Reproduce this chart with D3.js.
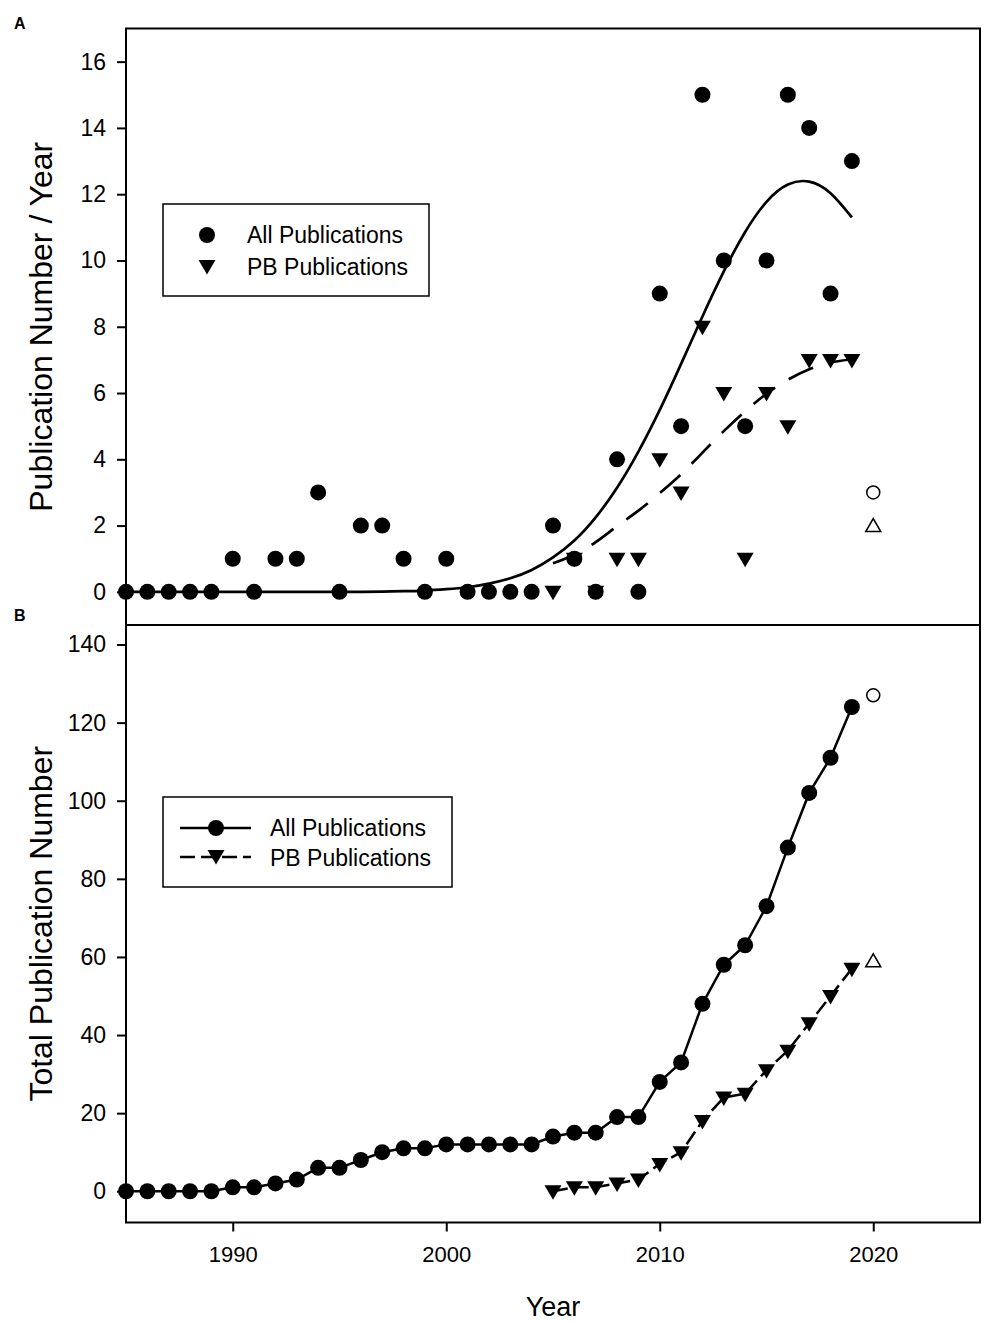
<!DOCTYPE html>
<html lang="en">
<head>
<meta charset="UTF-8">
<title>Publications per Year and Total Publications</title>
<script src="https://cdnjs.cloudflare.com/ajax/libs/d3/7.8.5/d3.min.js"></script>
<style>
  body { margin: 0; background: #fff; font-family: "Liberation Sans", Arial, sans-serif; }
  .axis path { display: none; }
  .axis line { stroke: #000; stroke-width: 2; }
  .axis text { fill: #000; }
  .frame { fill: none; stroke: #000; stroke-width: 2; }
  .legend-box { fill: #fff; stroke: #000; stroke-width: 1.5; }
  .legend text { font-size: 23px; fill: #000; }
</style>
</head>
<body>
<div id="chart"></div>
<script>
// Years covered by the records
const years = [1985, 1986, 1987, 1988, 1989, 1990, 1991, 1992, 1993, 1994,
               1995, 1996, 1997, 1998, 1999, 2000, 2001, 2002, 2003, 2004,
               2005, 2006, 2007, 2008, 2009, 2010, 2011, 2012, 2013, 2014,
               2015, 2016, 2017, 2018, 2019];
// All publications per year (panel A) and running total (panel B)
const allPerYear = [0, 0, 0, 0, 0, 1, 0, 1, 1, 3,
                    0, 2, 2, 1, 0, 1, 0, 0, 0, 0,
                    2, 1, 0, 4, 0, 9, 5, 15, 10, 5,
                    10, 15, 14, 9, 13];
const allTotal = [0, 0, 0, 0, 0, 1, 1, 2, 3, 6,
                  6, 8, 10, 11, 11, 12, 12, 12, 12, 12,
                  14, 15, 15, 19, 19, 28, 33, 48, 58, 63,
                  73, 88, 102, 111, 124];

// PB publications start in 2005
const pbYears = [2005, 2006, 2007, 2008, 2009, 2010, 2011, 2012, 2013, 2014,
                 2015, 2016, 2017, 2018, 2019];
const pbPerYear = [0, 1, 0, 1, 1, 4, 3, 8, 6, 1, 6, 5, 7, 7, 7];
const pbTotal = [0, 1, 1, 2, 3, 7, 10, 18, 24, 25, 31, 36, 43, 50, 57];

// Partial year (open symbols)
const partialYear = 2020;
const partialAll = 3;
const partialPb = 2;
const partialAllTotal = 127;
const partialPbTotal = 59;

// Fitted curves
const allFitValues = [0, 0, 0, 0, 0, 0, 0, 0, 0, 0,
                      0, 0, 0.01, 0.02, 0.04, 0.08, 0.14, 0.25, 0.41, 0.66,
                      1.04, 1.55, 2.25, 3.14, 4.23, 5.49, 6.88, 8.31, 9.67, 10.86,
                      11.77, 12.29, 12.38, 12.03, 11.3];
const pbFitValues = [0.86, 1.12, 1.5, 1.98, 2.45, 2.98, 3.55, 4.2, 4.85, 5.45,
                     5.98, 6.4, 6.72, 6.92, 7.02];

// Tick labels
const xTicks = [1990, 2000, 2010, 2020];
const yTicksA = [0, 2, 4, 6, 8, 10, 12, 14, 16];
const yTicksB = [0, 20, 40, 60, 80, 100, 120, 140];

const W = 985, H = 1321;
const left = 126, right = 980;
const topA = 28.5, mid = 625, bottomB = 1222.5;

const svg = d3.select("#chart").append("svg")
    .attr("width", W)
    .attr("height", H)
    .style("font-family", "'Liberation Sans', Arial, sans-serif");

const x = d3.scaleLinear().domain([1985, 2025]).range([left, right]);
const yA = d3.scaleLinear().domain([-1, 17]).range([mid, topA]);
const yB = d3.scaleLinear().domain([-8, 145]).range([bottomB, mid]);

const triDown = "M-8.5,-6L8.5,-6L0,8.5Z";
const triUp = "M-7.5,6L7.5,6L0,-7Z";

const toPoints = (xs, vs) => xs.map((yr, i) => ({year: yr, value: vs[i]}));

// ---------- Panel A ----------
const gA = svg.append("g");

gA.append("g")
    .attr("class", "axis")
    .attr("transform", `translate(${left},0)`)
    .call(d3.axisLeft(yA).tickValues(yTicksA).tickSize(9).tickPadding(11))
    .attr("font-size", 23)
    .attr("font-family", null);

// fitted curves
gA.append("path")
    .datum(toPoints(years, allFitValues))
    .attr("fill", "none")
    .attr("stroke", "#000")
    .attr("stroke-width", 2.7)
    .attr("d", d3.line().x(d => x(d.year)).y(d => yA(d.value)).curve(d3.curveNatural));

gA.append("path")
    .datum(toPoints(pbYears, pbFitValues))
    .attr("fill", "none")
    .attr("stroke", "#000")
    .attr("stroke-width", 2.7)
    .attr("stroke-dasharray", "27,16")
    .attr("d", d3.line().x(d => x(d.year)).y(d => yA(d.value)).curve(d3.curveNatural));

gA.selectAll("circle.all")
    .data(toPoints(years, allPerYear))
    .join("circle")
    .attr("class", "all")
    .attr("cx", d => x(d.year))
    .attr("cy", d => yA(d.value))
    .attr("r", 8)
    .attr("fill", "#000");

gA.selectAll("path.pb")
    .data(toPoints(pbYears, pbPerYear))
    .join("path")
    .attr("class", "pb")
    .attr("d", triDown)
    .attr("transform", d => `translate(${x(d.year)},${yA(d.value)})`)
    .attr("fill", "#000");

gA.append("circle")
    .attr("cx", x(partialYear))
    .attr("cy", yA(partialAll))
    .attr("r", 6.5)
    .attr("fill", "#fff")
    .attr("stroke", "#000")
    .attr("stroke-width", 1.5);

gA.append("path")
    .attr("d", triUp)
    .attr("transform", `translate(${x(partialYear)},${yA(partialPb)})`)
    .attr("fill", "#fff")
    .attr("stroke", "#000")
    .attr("stroke-width", 1.5);

gA.append("rect")
    .attr("class", "frame")
    .attr("x", left).attr("y", topA)
    .attr("width", right - left).attr("height", mid - topA);

// legend A
const legA = gA.append("g").attr("class", "legend");
legA.append("rect").attr("class", "legend-box")
    .attr("x", 163).attr("y", 204).attr("width", 266).attr("height", 92);
legA.append("circle").attr("cx", 207).attr("cy", 235).attr("r", 8).attr("fill", "#000");
legA.append("path").attr("d", triDown).attr("transform", "translate(207,266)").attr("fill", "#000");
legA.append("text").attr("x", 247).attr("y", 243).text("All Publications");
legA.append("text").attr("x", 247).attr("y", 275).text("PB Publications");

gA.append("text")
    .attr("transform", `translate(52,${(topA + mid) / 2}) rotate(-90)`)
    .attr("text-anchor", "middle")
    .attr("font-size", 32)
    .text("Publication Number / Year");

gA.append("text")
    .attr("x", 14).attr("y", 29)
    .attr("font-size", 16).attr("font-weight", "bold")
    .text("A");

// ---------- Panel B ----------
const gB = svg.append("g");

gB.append("g")
    .attr("class", "axis")
    .attr("transform", `translate(${left},0)`)
    .call(d3.axisLeft(yB).tickValues(yTicksB).tickSize(9).tickPadding(11))
    .attr("font-size", 23)
    .attr("font-family", null);

gB.append("g")
    .attr("class", "axis")
    .attr("transform", `translate(0,${bottomB})`)
    .call(d3.axisBottom(x).tickValues(xTicks).tickFormat(d3.format("d")).tickSize(9).tickPadding(15))
    .attr("font-size", 22)
    .attr("font-family", null);

gB.append("path")
    .datum(toPoints(years, allTotal))
    .attr("fill", "none")
    .attr("stroke", "#000")
    .attr("stroke-width", 2.5)
    .attr("d", d3.line().x(d => x(d.year)).y(d => yB(d.value)));

gB.selectAll("circle.all")
    .data(toPoints(years, allTotal))
    .join("circle")
    .attr("class", "all")
    .attr("cx", d => x(d.year))
    .attr("cy", d => yB(d.value))
    .attr("r", 8)
    .attr("fill", "#000");

gB.selectAll("path.pb")
    .data(toPoints(pbYears, pbTotal))
    .join("path")
    .attr("class", "pb")
    .attr("d", triDown)
    .attr("transform", d => `translate(${x(d.year)},${yB(d.value)})`)
    .attr("fill", "#000");

gB.append("path")
    .datum(toPoints(pbYears, pbTotal))
    .attr("fill", "none")
    .attr("stroke", "#000")
    .attr("stroke-width", 2.5)
    .attr("stroke-dasharray", "15,6")
    .attr("d", d3.line().x(d => x(d.year)).y(d => yB(d.value)));

gB.append("circle")
    .attr("cx", x(partialYear))
    .attr("cy", yB(partialAllTotal))
    .attr("r", 6.5)
    .attr("fill", "#fff")
    .attr("stroke", "#000")
    .attr("stroke-width", 1.5);

gB.append("path")
    .attr("d", triUp)
    .attr("transform", `translate(${x(partialYear)},${yB(partialPbTotal)})`)
    .attr("fill", "#fff")
    .attr("stroke", "#000")
    .attr("stroke-width", 1.5);

gB.append("rect")
    .attr("class", "frame")
    .attr("x", left).attr("y", mid)
    .attr("width", right - left).attr("height", bottomB - mid);

// legend B
const legB = gB.append("g").attr("class", "legend");
legB.append("rect").attr("class", "legend-box")
    .attr("x", 163).attr("y", 797).attr("width", 289).attr("height", 90);
legB.append("line").attr("x1", 180).attr("x2", 251).attr("y1", 828).attr("y2", 828)
    .attr("stroke", "#000").attr("stroke-width", 2.5);
legB.append("circle").attr("cx", 216).attr("cy", 828).attr("r", 8).attr("fill", "#000");
legB.append("line").attr("x1", 180).attr("x2", 251).attr("y1", 857).attr("y2", 857)
    .attr("stroke", "#000").attr("stroke-width", 2.5).attr("stroke-dasharray", "15,6");
legB.append("path").attr("d", triDown).attr("transform", "translate(216,856)").attr("fill", "#000");
legB.append("text").attr("x", 270).attr("y", 836).text("All Publications");
legB.append("text").attr("x", 270).attr("y", 866).text("PB Publications");

gB.append("text")
    .attr("transform", `translate(52,${(mid + bottomB) / 2}) rotate(-90)`)
    .attr("text-anchor", "middle")
    .attr("font-size", 32)
    .text("Total Publication Number");

gB.append("text")
    .attr("x", 14).attr("y", 621)
    .attr("font-size", 16).attr("font-weight", "bold")
    .text("B");

svg.append("text")
    .attr("x", (left + right) / 2).attr("y", 1316)
    .attr("text-anchor", "middle")
    .attr("font-size", 27)
    .text("Year");
</script>
</body>
</html>
